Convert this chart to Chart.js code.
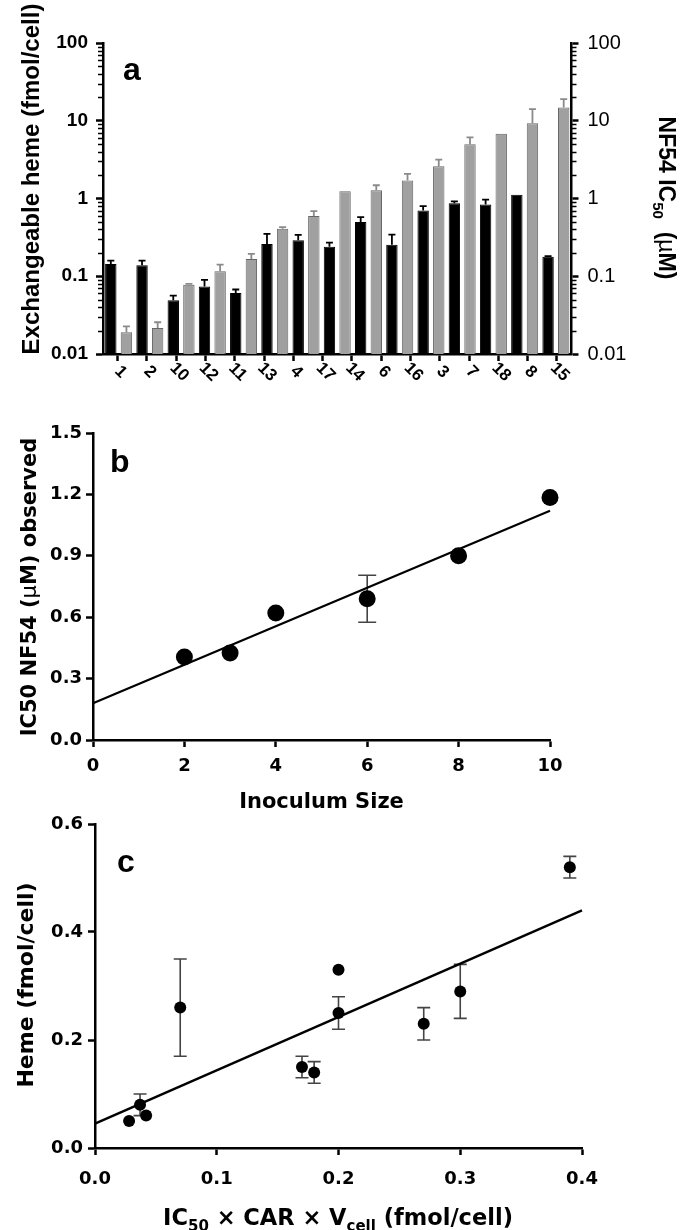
<!DOCTYPE html>
<html>
<head>
<meta charset="utf-8">
<title>Heme vs IC50</title>
<script src="https://cdn.jsdelivr.net/npm/chart.js@4.4.0/dist/chart.umd.min.js"></script>
<style>
  html, body { margin: 0; padding: 0; background: #fff; }
  body { width: 682px; height: 1230px; position: relative; overflow: hidden; }
  canvas { position: absolute; left: 0; }
  #chartA { top: 0; }
  #chartB { top: 390px; }
  #chartC { top: 800px; }
</style>
</head>
<body>
<canvas id="chartA" width="682" height="400"></canvas>
<canvas id="chartB" width="682" height="440"></canvas>
<canvas id="chartC" width="682" height="430"></canvas>
<script>
/* ==========================================
   Panel a - exchangeable heme vs NF54 IC50
========================================== */
const compounds = ["1", "2", "10", "12", "11", "13", "4", "17", "14", "6", "16", "3", "7", "18", "8", "15"];
const decadeTicks = [0.01, 0.1, 1, 10, 100];
const hemeValues = [0.144, 0.139, 0.049, 0.074, 0.061, 0.26, 0.29, 0.24, 0.5, 0.255, 0.7, 0.87, 0.84, 1.12, 0.178];
const hemeErrors = [0.015, 0.02, 0.0075, 0.016, 0.0065, 0.09, 0.05, 0.03, 0.077, 0.088, 0.1, 0.05, 0.13, 0, 0.004];
const ic50Values = [0.019, 0.0216, 0.078, 0.116, 0.167, 0.407, 0.594, 1.24, 1.28, 1.7, 2.6, 5.0, 6.8, 9.3, 14.8];
const ic50Errors = [0.0037, 0.004, 0.002, 0.025, 0.027, 0.021, 0.094, 0, 0.2, 0.37, 0.56, 1.1, 0, 4.8, 4.2];

/* ==========================================
   Panel b - inoculum size
========================================== */
const inoculumSize = [2, 3, 4, 6, 8, 10];
const ic50Observed = [0.405, 0.425, 0.62, 0.69, 0.9, 1.185];
const ic50ObservedErr = [0, 0, 0, 0.115, 0, 0];
const inoculumTicks = [0, 2, 4, 6, 8, 10];
const observedTicks = [0, 0.3, 0.6, 0.9, 1.2, 1.5];
const inoculumFitX = [0, 10];
const inoculumFitY = [0.18, 1.12];

/* ==========================================
   Panel c - predicted vs measured heme
========================================== */
const predictedHeme = [0.028, 0.037, 0.042, 0.07, 0.17, 0.18, 0.2, 0.2, 0.27, 0.3, 0.39];
const measuredHeme = [0.05, 0.08, 0.06, 0.26, 0.15, 0.14, 0.25, 0.33, 0.23, 0.29, 0.52];
const measuredHemeErr = [0, 0.02, 0, 0.09, 0.02, 0.02, 0.03, 0, 0.03, 0.05, 0.02];
const predictedTicks = [0, 0.1, 0.2, 0.3, 0.4];
const hemeTicks = [0, 0.2, 0.4, 0.6];
const hemeFitX = [0, 0.4];
const hemeFitY = [0.045, 0.44];

const ARIAL = '"Liberation Sans", Arial, sans-serif';
const DEJAVU = '"DejaVu Sans", sans-serif';

Chart.defaults.animation = false;
Chart.defaults.events = [];
Chart.defaults.color = "#000";
Chart.defaults.plugins.legend.display = false;
Chart.defaults.plugins.tooltip.enabled = false;

const isDecade = (v) => Math.abs(Math.log10(v) - Math.round(Math.log10(v))) < 1e-6;

const logTickList = decadeTicks.flatMap((d, i) =>
  i === decadeTicks.length - 1
    ? [d]
    : [d, ...[2, 3, 4, 5, 6, 7, 8, 9].map((m) => +(d * m).toPrecision(6))]
);

function axisStyle(tickLength, extraGrid) {
  return {
    border: { display: true, color: "#000", width: 2.5 },
    grid: Object.assign(
      { display: true, drawOnChartArea: false, drawTicks: true, tickLength, tickWidth: 2.5, tickColor: "#000" },
      extraGrid || {}
    ),
  };
}

function fixTicks(values) {
  return (scale) => {
    scale.ticks = values.map((v) => ({ value: v }));
  };
}

// text with optional subscripts, centred on (x, y)
function richText(ctx, parts, x, y, rot, size, family) {
  const fontFor = (p) => `${p.weight || "bold"} ${p.sub ? Math.round(size * 0.65) : size}px ${family}`;
  ctx.save();
  ctx.translate(x, y);
  ctx.rotate(rot);
  ctx.fillStyle = "#000";
  ctx.textBaseline = "alphabetic";
  ctx.textAlign = "left";
  let total = 0;
  parts.forEach((p) => {
    ctx.font = fontFor(p);
    total += ctx.measureText(p.t).width;
  });
  let cx = -total / 2;
  parts.forEach((p) => {
    ctx.font = fontFor(p);
    ctx.fillText(p.t, cx, size * 0.36 + (p.sub ? size * 0.24 : 0));
    cx += ctx.measureText(p.t).width;
  });
  ctx.restore();
}

function panelLetter(ctx, letter, x, y) {
  ctx.save();
  ctx.fillStyle = "#000";
  ctx.font = `bold 32px ${ARIAL}`;
  ctx.textBaseline = "alphabetic";
  ctx.fillText(letter, x, y);
  ctx.restore();
}

function drawMinorTicks(chart, id, dir) {
  const s = chart.scales[id];
  const ctx = chart.ctx;
  const x0 = dir < 0 ? chart.chartArea.left : chart.chartArea.right;
  ctx.save();
  ctx.strokeStyle = "#000";
  ctx.lineWidth = 1.5;
  s.ticks.forEach((t) => {
    if (isDecade(t.value)) return;
    const y = Math.round(s.getPixelForValue(t.value)) + 0.5;
    ctx.beginPath();
    ctx.moveTo(x0, y);
    ctx.lineTo(x0 + dir * 5, y);
    ctx.stroke();
  });
  ctx.restore();
}

function drawErrorBars(chart, xs, ys, errs, capHalf, color) {
  const ctx = chart.ctx;
  const sx = chart.scales.x;
  const sy = chart.scales.y;
  ctx.save();
  ctx.strokeStyle = color;
  ctx.lineWidth = 1.6;
  xs.forEach((xv, i) => {
    if (!errs[i]) return;
    const px = sx.getPixelForValue(xv);
    const top = sy.getPixelForValue(ys[i] + errs[i]);
    const bot = sy.getPixelForValue(ys[i] - errs[i]);
    ctx.beginPath();
    ctx.moveTo(px, top);
    ctx.lineTo(px, bot);
    ctx.moveTo(px - capHalf, top);
    ctx.lineTo(px + capHalf, top);
    ctx.moveTo(px - capHalf, bot);
    ctx.lineTo(px + capHalf, bot);
    ctx.stroke();
  });
  ctx.restore();
}

/* ---------- panel a ---------- */
const logAxisGrid = { tickColor: (c) => (c.tick && isDecade(c.tick.value) ? "#000" : "rgba(0,0,0,0)") };

const panelADecor = {
  id: "panelADecor",
  afterDatasetsDraw(chart) {
    const ctx = chart.ctx;
    [
      [0, hemeValues, hemeErrors, "#000", "yl"],
      [1, ic50Values, ic50Errors, "#8a8a8a", "yr"],
    ].forEach(([di, vals, errs, color, axis]) => {
      const meta = chart.getDatasetMeta(di);
      const sy = chart.scales[axis];
      ctx.save();
      ctx.strokeStyle = color;
      ctx.lineWidth = 1.8;
      meta.data.forEach((bar, i) => {
        if (!errs[i]) return;
        const top = sy.getPixelForValue(vals[i] + errs[i]);
        ctx.beginPath();
        ctx.moveTo(bar.x, bar.y);
        ctx.lineTo(bar.x, top);
        ctx.moveTo(bar.x - 3.5, top);
        ctx.lineTo(bar.x + 3.5, top);
        ctx.stroke();
      });
      ctx.restore();
    });
  },
  afterDraw(chart) {
    const ctx = chart.ctx;
    drawMinorTicks(chart, "yl", -1);
    drawMinorTicks(chart, "yr", 1);

    const s = chart.scales.xt;
    ctx.save();
    ctx.fillStyle = "#000";
    ctx.font = `bold 17px ${ARIAL}`;
    ctx.textAlign = "center";
    ctx.textBaseline = "middle";
    compounds.forEach((lab, i) => {
      ctx.save();
      ctx.translate(s.getPixelForTick(i) + 3, s.top + 18);
      ctx.rotate(Math.PI / 4);
      ctx.fillText(lab, 0, 0);
      ctx.restore();
    });
    ctx.restore();

    richText(ctx, [{ t: "Exchangeable heme (fmol/cell)" }], 30, 179, -Math.PI / 2, 24, ARIAL);
    richText(ctx, [{ t: "NF54 IC" }, { t: "50", sub: true }, { t: "  (" }, { t: "µ", weight: "normal" }, { t: "M)" }], 667, 198, Math.PI / 2, 23, ARIAL);
    panelLetter(ctx, "a", 123, 80);
  },
};

new Chart(document.getElementById("chartA"), {
  type: "bar",
  data: {
    datasets: [
      { data: hemeValues, xAxisID: "xb", yAxisID: "yl", backgroundColor: "#000", borderColor: "#000", borderWidth: 1 },
      { data: ic50Values, xAxisID: "xb", yAxisID: "yr", backgroundColor: "#a0a0a0", borderColor: "#666", borderWidth: 1 },
    ],
  },
  options: {
    responsive: false,
    categoryPercentage: 1,
    barPercentage: 0.73,
    layout: { autoPadding: false, padding: { top: 43, left: 0, right: 0, bottom: 0 } },
    scales: {
      xb: {
        type: "category",
        labels: hemeValues.map((_, i) => `pair ${i + 1}`),
        display: false,
        offset: true,
      },
      xt: Object.assign(
        {
          type: "category",
          labels: compounds,
          position: "bottom",
          offset: true,
          ticks: { autoSkip: false, maxRotation: 0, callback: () => "" },
          afterFit: (s) => { s.height = 46; },
        },
        axisStyle(7, { offset: false })
      ),
      yl: Object.assign(
        {
          type: "logarithmic",
          position: "left",
          min: 0.01,
          max: 100,
          afterBuildTicks: fixTicks(logTickList),
          ticks: {
            autoSkip: false,
            padding: 8,
            font: { family: ARIAL, size: 19, weight: "bold" },
            callback: (v) => (isDecade(v) ? String(v) : ""),
          },
          afterFit: (s) => { s.width = 103; },
        },
        axisStyle(7, logAxisGrid)
      ),
      yr: Object.assign(
        {
          type: "logarithmic",
          position: "right",
          min: 0.01,
          max: 100,
          afterBuildTicks: fixTicks(logTickList),
          ticks: {
            autoSkip: false,
            padding: 9,
            font: { family: ARIAL, size: 20, weight: "normal" },
            callback: (v) => (isDecade(v) ? String(v) : ""),
          },
          afterFit: (s) => { s.width = 110.5; },
        },
        axisStyle(7, logAxisGrid)
      ),
    },
  },
  plugins: [panelADecor],
});

/* ---------- panel b ---------- */
const panelBDecor = {
  id: "panelBDecor",
  beforeDatasetsDraw(chart) {
    drawErrorBars(chart, inoculumSize, ic50Observed, ic50ObservedErr, 9, "#444");
  },
  afterDraw(chart) {
    const ctx = chart.ctx;
    richText(ctx, [{ t: "IC50 NF54 (" }, { t: "µ", weight: "normal" }, { t: "M) observed" }], 28, 197, -Math.PI / 2, 21, DEJAVU);
    richText(ctx, [{ t: "Inoculum Size" }], 321.5, 410, 0, 21, DEJAVU);
    panelLetter(ctx, "b", 110, 82);
  },
};

new Chart(document.getElementById("chartB"), {
  type: "scatter",
  data: {
    datasets: [
      {
        data: inoculumSize.map((x, i) => ({ x, y: ic50Observed[i] })),
        pointRadius: 8.5,
        pointBackgroundColor: "#000",
        pointBorderWidth: 0,
        clip: false,
      },
      {
        data: inoculumFitX.map((x, i) => ({ x, y: inoculumFitY[i] })),
        showLine: true,
        borderColor: "#000",
        borderWidth: 2.2,
        pointRadius: 0,
        clip: false,
      },
    ],
  },
  options: {
    responsive: false,
    layout: { autoPadding: false, padding: { top: 43, left: 0, right: 132, bottom: 0 } },
    scales: {
      x: Object.assign(
        {
          type: "linear",
          min: 0,
          max: 10,
          afterBuildTicks: fixTicks(inoculumTicks),
          ticks: { padding: 9, font: { family: DEJAVU, size: 18, weight: "bold" }, callback: (v) => String(v) },
          afterFit: (s) => { s.height = 90; },
        },
        axisStyle(7)
      ),
      y: Object.assign(
        {
          type: "linear",
          min: 0,
          max: 1.5,
          afterBuildTicks: fixTicks(observedTicks),
          ticks: { padding: 4, font: { family: DEJAVU, size: 18, weight: "bold" }, callback: (v) => v.toFixed(1) },
          afterFit: (s) => { s.width = 93; },
        },
        axisStyle(7)
      ),
    },
  },
  plugins: [panelBDecor],
});

/* ---------- panel c ---------- */
const panelCDecor = {
  id: "panelCDecor",
  beforeDatasetsDraw(chart) {
    drawErrorBars(chart, predictedHeme, measuredHeme, measuredHemeErr, 6.5, "#444");
  },
  afterDraw(chart) {
    const ctx = chart.ctx;
    richText(ctx, [{ t: "Heme (fmol/cell)" }], 25, 185, -Math.PI / 2, 22, DEJAVU);
    richText(
      ctx,
      [{ t: "IC" }, { t: "50", sub: true }, { t: " × CAR × V" }, { t: "cell", sub: true }, { t: " (fmol/cell)" }],
      338,
      417,
      0,
      22.5,
      DEJAVU
    );
    panelLetter(ctx, "c", 117, 72);
  },
};

new Chart(document.getElementById("chartC"), {
  type: "scatter",
  data: {
    datasets: [
      {
        data: predictedHeme.map((x, i) => ({ x, y: measuredHeme[i] })),
        pointRadius: 6,
        pointBackgroundColor: "#000",
        pointBorderWidth: 0,
        clip: false,
      },
      {
        data: hemeFitX.map((x, i) => ({ x, y: hemeFitY[i] })),
        showLine: true,
        borderColor: "#000",
        borderWidth: 2.4,
        pointRadius: 0,
        clip: false,
      },
    ],
  },
  options: {
    responsive: false,
    layout: { autoPadding: false, padding: { top: 24, left: 0, right: 100, bottom: 0 } },
    scales: {
      x: Object.assign(
        {
          type: "linear",
          min: 0,
          max: 0.4,
          afterBuildTicks: fixTicks(predictedTicks),
          ticks: { padding: 14, font: { family: DEJAVU, size: 18, weight: "bold" }, callback: (v) => v.toFixed(1) },
          afterFit: (s) => { s.height = 82; },
        },
        axisStyle(7)
      ),
      y: Object.assign(
        {
          type: "linear",
          min: 0,
          max: 0.6,
          afterBuildTicks: fixTicks(hemeTicks),
          ticks: { padding: 5, font: { family: DEJAVU, size: 18, weight: "bold" }, callback: (v) => v.toFixed(1) },
          afterFit: (s) => { s.width = 95; },
        },
        axisStyle(7)
      ),
    },
  },
  plugins: [panelCDecor],
});
</script>
</body>
</html>
